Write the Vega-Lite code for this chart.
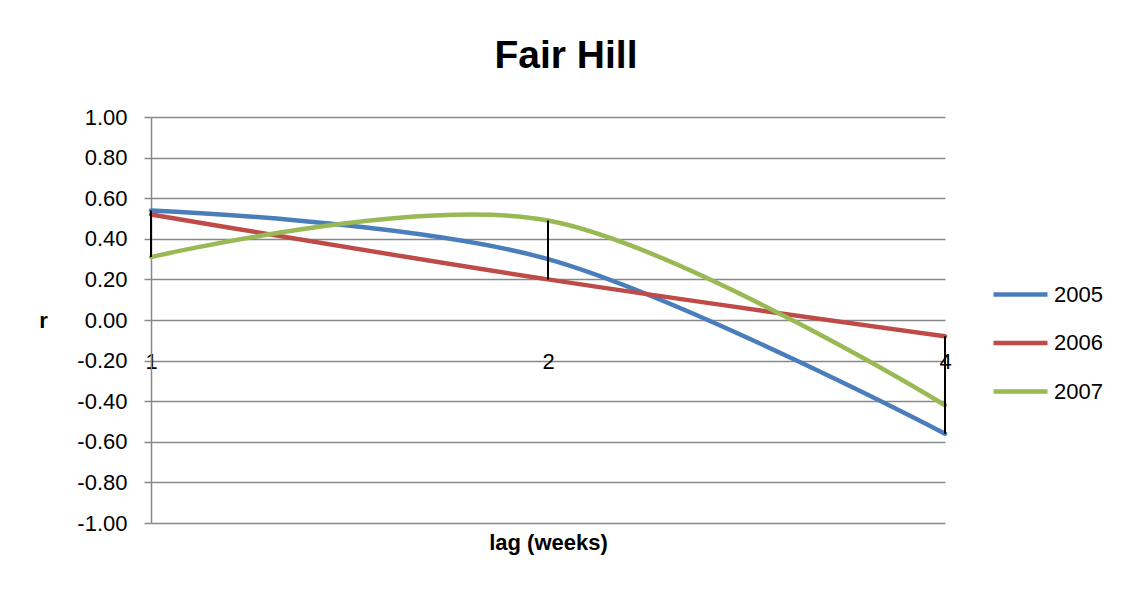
{
  "$schema": "https://vega.github.io/schema/vega-lite/v6.json",
  "width": 794,
  "height": 406,
  "autosize": {"type": "none"},
  "padding": {"left": 151, "top": 117, "right": 189, "bottom": 71},
  "background": "white",
  "title": {"text": "Fair Hill", "font": "Liberation Sans", "fontSize": 39, "fontWeight": "bold", "color": "black", "anchor": "middle", "dx": 18, "offset": 30},
  "config": {
    "view": {"stroke": null},
    "font": "Liberation Sans",
    "locale": {"number": {"decimal": ".", "thousands": ",", "grouping": [3], "currency": ["$", ""], "minus": "-"}}
  },
  "data": {"values": [
    {"lag": "1", "year": "2005", "r": 0.54},
    {"lag": "2", "year": "2005", "r": 0.30},
    {"lag": "4", "year": "2005", "r": -0.56},
    {"lag": "1", "year": "2006", "r": 0.52},
    {"lag": "2", "year": "2006", "r": 0.20},
    {"lag": "4", "year": "2006", "r": -0.08},
    {"lag": "1", "year": "2007", "r": 0.31},
    {"lag": "2", "year": "2007", "r": 0.49},
    {"lag": "4", "year": "2007", "r": -0.42}
  ]},
  "layer": [
    {
      "mark": {"type": "line", "interpolate": "cardinal", "strokeWidth": 4.5, "strokeCap": "round"},
      "encoding": {
        "x": {"field": "lag", "type": "ordinal", "sort": ["1", "2", "4"], "scale": {"type": "point", "padding": 0},
          "axis": {"title": "lag (weeks)", "offset": -203, "domain": false, "ticks": false, "grid": false, "labelAngle": 0,
            "labelFontSize": 22, "labelColor": "black", "labelPadding": 31,
            "titleFontSize": 22, "titleFontWeight": "bold", "titleColor": "black", "titlePadding": 160}},
        "y": {"field": "r", "type": "quantitative", "scale": {"domain": [-1, 1], "nice": false},
          "axis": {"values": [-1, -0.8, -0.6, -0.4, -0.2, 0, 0.2, 0.4, 0.6, 0.8, 1], "format": ".2f",
            "title": "r", "titleAngle": 0, "titleX": -108, "titleY": 203, "titleAlign": "center", "titleBaseline": "middle",
            "titleFontSize": 22, "titleFontWeight": "bold", "titleColor": "black",
            "labelFontSize": 22, "labelColor": "black", "labelPadding": 17,
            "tickSize": 7, "tickColor": "#888888", "tickWidth": 1.5,
            "domainColor": "#888888", "domainWidth": 1.5,
            "grid": true, "gridColor": "#888888", "gridWidth": 1.5}},
        "color": {"field": "year", "type": "nominal",
          "scale": {"domain": ["2005", "2006", "2007"], "range": ["#4A7EBB", "#BE4B48", "#98B954"]},
          "legend": {"title": null, "orient": "none", "legendX": 840, "legendY": 148,
            "symbolType": "stroke", "symbolSize": 2916, "symbolStrokeWidth": 4.5,
            "labelFontSize": 22, "labelColor": "black", "labelOffset": 4, "rowPadding": 7.5}}
      }
    },
    {
      "transform": [{"aggregate": [{"op": "min", "field": "r", "as": "lo"}, {"op": "max", "field": "r", "as": "hi"}], "groupby": ["lag"]}],
      "mark": {"type": "rule", "color": "black", "strokeWidth": 2},
      "encoding": {
        "x": {"field": "lag", "type": "ordinal", "sort": ["1", "2", "4"], "scale": {"type": "point", "padding": 0}, "title": "lag (weeks)"},
        "y": {"field": "lo", "type": "quantitative", "title": "r"},
        "y2": {"field": "hi"}
      }
    }
  ]
}
